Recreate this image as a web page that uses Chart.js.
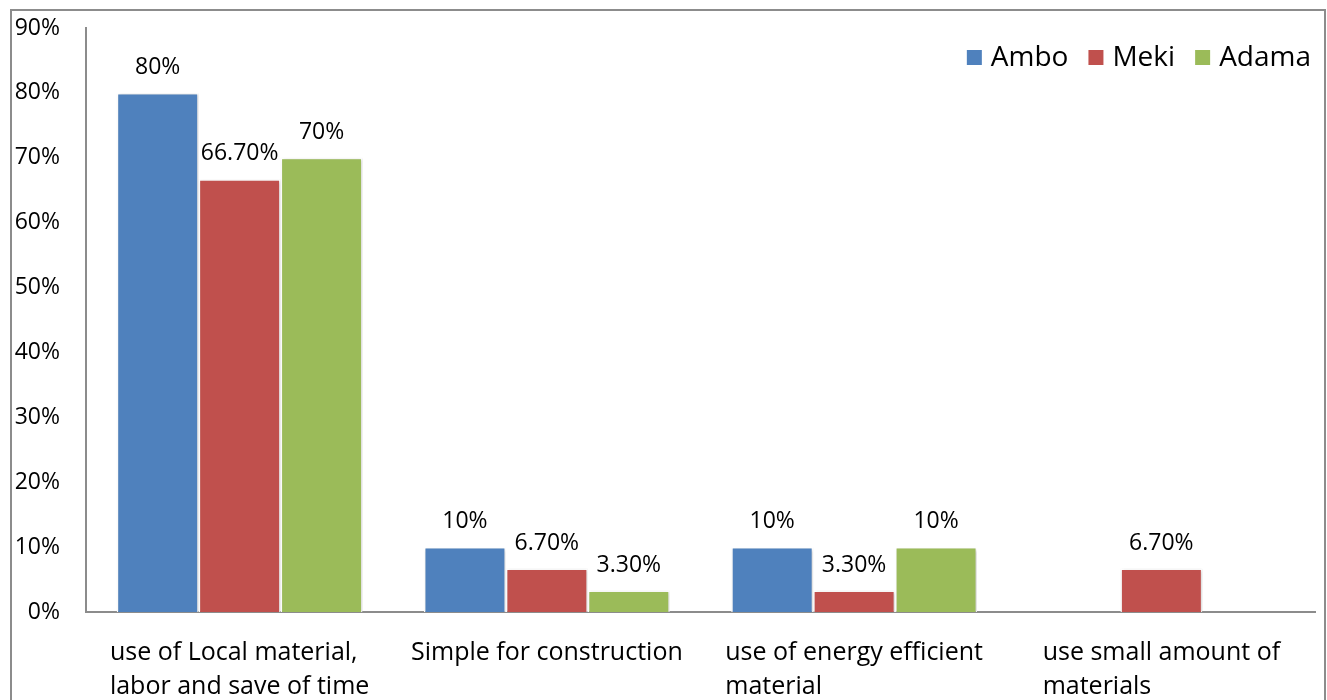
<!DOCTYPE html>
<html>
<head>
<meta charset="utf-8">
<script src="https://cdn.jsdelivr.net/npm/chart.js@4.4.0/dist/chart.umd.min.js"></script>
<style>
    body { margin: 0; background: #fff; }
    #wrap { width: 1327px; height: 700px; }
</style>
</head>
<body>
<div id="wrap"><canvas id="chart" width="1327" height="700"></canvas></div>
<script>
// data
const categories = [
    ['use of Local material,', 'labor and save of time'],
    ['Simple for construction'],
    ['use of energy efficient', 'material'],
    ['use small amount of', 'materials']
];
const seriesNames = ['Ambo', 'Meki', 'Adama'];
const seriesColors = ['#4F81BD', '#C0504D', '#9BBB59'];
const amboValues = [80, 10, 10, null];
const mekiValues = [66.7, 6.7, 3.3, 6.7];
const adamaValues = [70, 3.3, 10, null];
const yMax = 90;
const yStep = 10;

const FONT = '"Open Sans", "Noto Sans", sans-serif';

function formatPct(v) {
    return Number.isInteger(v) ? v + '%' : v.toFixed(2) + '%';
}

// outer frame of the chart
const framePlugin = {
    id: 'frame',
    beforeDraw(chart) {
        const ctx = chart.ctx;
        ctx.save();
        ctx.fillStyle = '#fff';
        ctx.fillRect(0, 0, chart.width, chart.height);
        ctx.strokeStyle = '#8c8c8c';
        ctx.lineWidth = 2;
        ctx.strokeRect(11, 10, chart.width - 13, chart.height + 10);
        ctx.restore();
    }
};

// light shadow under the bars
const shadowPlugin = {
    id: 'barShadow',
    beforeDatasetsDraw(chart) {
        const ctx = chart.ctx;
        ctx.save();
        ctx.shadowColor = 'rgba(0,0,0,0.22)';
        ctx.shadowBlur = 3;
        ctx.shadowOffsetX = 1;
        ctx.shadowOffsetY = 1;
    },
    afterDatasetsDraw(chart) {
        chart.ctx.restore();
    }
};

// value labels above the bars
const valueLabelPlugin = {
    id: 'valueLabels',
    afterDatasetsDraw(chart) {
        const ctx = chart.ctx;
        ctx.save();
        ctx.font = '23px ' + FONT;
        ctx.fillStyle = '#000';
        ctx.textAlign = 'center';
        ctx.textBaseline = 'alphabetic';
        chart.data.datasets.forEach((ds, di) => {
            const meta = chart.getDatasetMeta(di);
            meta.data.forEach((bar, i) => {
                const v = ds.data[i];
                if (v === null || v === undefined) return;
                ctx.fillText(formatPct(v), bar.x, bar.y - 19);
            });
        });
        ctx.restore();
    }
};

// category labels: lines left aligned, block centred on the category
const categoryLabelPlugin = {
    id: 'categoryLabels',
    afterDraw(chart) {
        const ctx = chart.ctx;
        const xScale = chart.scales.x;
        ctx.save();
        ctx.font = '25px ' + FONT;
        ctx.fillStyle = '#000';
        ctx.textAlign = 'left';
        ctx.textBaseline = 'alphabetic';
        categories.forEach((lines, i) => {
            const cx = xScale.getPixelForValue(i);
            const blockW = Math.max(...lines.map(l => ctx.measureText(l).width));
            const left = cx - blockW / 2;
            lines.forEach((line, li) => {
                ctx.fillText(line, left, xScale.top + 48 + li * 34);
            });
        });
        ctx.restore();
    }
};

// legend in the top right corner
const legendPlugin = {
    id: 'cornerLegend',
    afterDraw(chart) {
        const ctx = chart.ctx;
        ctx.save();
        ctx.font = '28px ' + FONT;
        ctx.textBaseline = 'alphabetic';
        ctx.textAlign = 'left';
        const box = 15, gapBox = 9, gapItem = 20;
        let x = 1311;
        const items = chart.data.datasets.map((ds, i) => ({
            label: ds.label,
            color: seriesColors[i],
            w: ctx.measureText(ds.label).width
        }));
        for (let i = items.length - 1; i >= 0; i--) {
            const it = items[i];
            const textX = x - it.w;
            const boxX = textX - gapBox - box;
            ctx.fillStyle = '#000';
            ctx.fillText(it.label, textX, 66);
            ctx.fillStyle = it.color;
            ctx.fillRect(boxX, 50, box, box);
            x = boxX - gapItem;
        }
        ctx.restore();
    }
};

const ctx = document.getElementById('chart').getContext('2d');
new Chart(ctx, {
    type: 'bar',
    data: {
        labels: categories,
        datasets: [
            { label: seriesNames[0], data: amboValues, backgroundColor: seriesColors[0] },
            { label: seriesNames[1], data: mekiValues, backgroundColor: seriesColors[1] },
            { label: seriesNames[2], data: adamaValues, backgroundColor: seriesColors[2] }
        ]
    },
    options: {
        responsive: false,
        animation: false,
        layout: { padding: { top: 28, right: 12, left: 0, bottom: 0 } },
        datasets: {
            bar: {
                categoryPercentage: 0.8,
                barPercentage: 1.0,
                borderColor: '#fff',
                borderWidth: 1.5
            }
        },
        scales: {
            x: {
                grid: { display: false, drawTicks: false },
                border: { display: true, color: '#8c8c8c', width: 2 },
                ticks: { display: false },
                afterFit(scale) {
                    scale.height = 88;
                    scale.paddingLeft = 0;
                    scale.paddingRight = 0;
                }
            },
            y: {
                min: 0,
                max: yMax,
                grid: { display: false, drawTicks: false },
                border: { display: true, color: '#8c8c8c', width: 2 },
                ticks: {
                    stepSize: yStep,
                    padding: 26,
                    color: '#000',
                    font: { family: FONT, size: 23 },
                    callback: v => v + '%'
                },
                afterFit(scale) {
                    scale.width = 86;
                    scale.paddingTop = 0;
                    scale.paddingBottom = 0;
                }
            }
        },
        plugins: {
            legend: { display: false },
            tooltip: { enabled: false }
        }
    },
    plugins: [framePlugin, shadowPlugin, valueLabelPlugin, categoryLabelPlugin, legendPlugin]
});
</script>
</body>
</html>
